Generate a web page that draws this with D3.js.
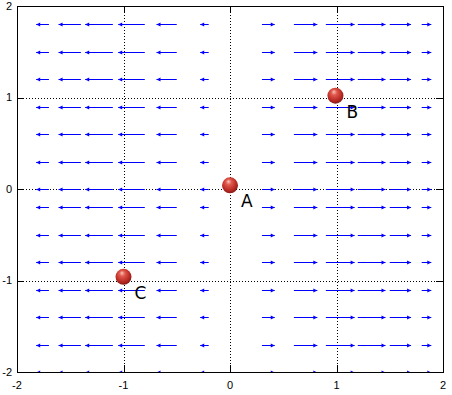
<!DOCTYPE html>
<html>
<head>
<meta charset="utf-8">
<script src="https://cdn.jsdelivr.net/npm/d3@7"></script>
<style>
  body { margin: 0; background: #fff; }
  svg { display: block; }
</style>
</head>
<body>
<div id="chart"></div>
<script>
// Zeilen des Vektorfeldes (y-Werte)
const rowsY = [-2, -1.7, -1.4, -1.1, -0.8, -0.5, -0.2, 0, 0.3, 0.6, 0.9, 1.2, 1.5, 1.8];
// Startpunkte der Pfeile (x-Werte) und deren Länge in x-Richtung
const colsX = [-1.7, -1.4, -1.1, -0.8, -0.5, -0.2, 0.3, 0.6, 0.9, 1.2, 1.5, 1.8];
const colsDx = [-0.12, -0.21, -0.26, -0.25, -0.19, -0.08, 0.12, 0.22, 0.27, 0.26, 0.20, 0.09];
// Kugeln mit Beschriftung
const pointNames = ['A', 'B', 'C'];
const pointX = [0, 0.99, -1];
const pointY = [0.04, 1.02, -0.96];
// Achsenbeschriftungen
const tickValues = [-2, -1, 0, 1, 2];
const gridValues = [-1, 0, 1];

const width = 452, height = 395;
const plot = { left: 17, right: 443, top: 6, bottom: 372 };

const svg = d3.select('#chart')
  .append('svg')
  .attr('width', width)
  .attr('height', height);

const x = d3.scaleLinear().domain([-2, 2]).range([plot.left, plot.right]);
const y = d3.scaleLinear().domain([-2, 2]).range([plot.bottom, plot.top]);

// Clip-Pfad für die Pfeile
svg.append('clipPath')
  .attr('id', 'plotclip')
  .append('rect')
  .attr('x', plot.left)
  .attr('y', plot.top)
  .attr('width', plot.right - plot.left)
  .attr('height', plot.bottom - plot.top);

// Gradient für die Kugeln
const grad = svg.append('defs').append('radialGradient')
  .attr('id', 'ball')
  .attr('cx', '45%').attr('cy', '40%').attr('r', '60%')
  .attr('fx', '40%').attr('fy', '25%');
grad.append('stop').attr('offset', '0%').attr('stop-color', '#f8c4bc');
grad.append('stop').attr('offset', '30%').attr('stop-color', '#e0584c');
grad.append('stop').attr('offset', '75%').attr('stop-color', '#b82a24');
grad.append('stop').attr('offset', '100%').attr('stop-color', '#8a1a16');

// Gitterlinien (gepunktet)
const grid = svg.append('g')
  .attr('stroke', '#000')
  .attr('stroke-width', 1)
  .attr('stroke-dasharray', '1,2');
grid.selectAll('.gx')
  .data(gridValues)
  .enter().append('line')
  .attr('x1', d => Math.round(x(d)) + 0.5)
  .attr('x2', d => Math.round(x(d)) + 0.5)
  .attr('y1', plot.top)
  .attr('y2', plot.bottom);
grid.selectAll('.gy')
  .data(gridValues)
  .enter().append('line')
  .attr('y1', d => Math.round(y(d)) + 0.5)
  .attr('y2', d => Math.round(y(d)) + 0.5)
  .attr('x1', plot.left)
  .attr('x2', plot.right);

// Pfeile erzeugen
const arrows = [];
rowsY.forEach(ry => {
  colsX.forEach((cx, i) => {
    arrows.push({ x: cx, y: ry, dx: colsDx[i] });
  });
});

const arrowG = svg.append('g').attr('clip-path', 'url(#plotclip)');

arrowG.selectAll('line')
  .data(arrows)
  .enter().append('line')
  .attr('x1', d => x(d.x))
  .attr('x2', d => x(d.x + d.dx))
  .attr('y1', d => Math.round(y(d.y)) + 0.5)
  .attr('y2', d => Math.round(y(d.y)) + 0.5)
  .attr('stroke', '#0000ff')
  .attr('stroke-width', 1);

// Pfeilspitzen (kleine gefüllte Dreiecke)
arrowG.selectAll('path')
  .data(arrows)
  .enter().append('path')
  .attr('d', d => {
    const hx = x(d.x + d.dx);
    const hy = Math.round(y(d.y)) + 0.5;
    const s = d.dx < 0 ? 1 : -1;
    return `M${hx},${hy} L${hx + s * 4},${hy - 2} L${hx + s * 4},${hy + 2} Z`;
  })
  .attr('fill', '#0000ff');

// Rahmen
svg.append('rect')
  .attr('x', plot.left + 0.5)
  .attr('y', plot.top + 0.5)
  .attr('width', plot.right - plot.left)
  .attr('height', plot.bottom - plot.top)
  .attr('fill', 'none')
  .attr('stroke', '#000')
  .attr('stroke-width', 1);

// Tickmarken nach innen, auf allen vier Seiten
const tickLen = 7;
const ticks = svg.append('g').attr('stroke', '#000').attr('stroke-width', 1);
tickValues.forEach(t => {
  const px = Math.round(x(t)) + 0.5;
  const py = Math.round(y(t)) + 0.5;
  ticks.append('line').attr('x1', px).attr('x2', px).attr('y1', plot.bottom).attr('y2', plot.bottom - tickLen);
  ticks.append('line').attr('x1', px).attr('x2', px).attr('y1', plot.top).attr('y2', plot.top + tickLen);
  ticks.append('line').attr('y1', py).attr('y2', py).attr('x1', plot.left).attr('x2', plot.left + tickLen);
  ticks.append('line').attr('y1', py).attr('y2', py).attr('x1', plot.right).attr('x2', plot.right - tickLen);
});

// Achsenbeschriftungen
svg.selectAll('.xlab')
  .data(tickValues)
  .enter().append('text')
  .attr('x', d => x(d))
  .attr('y', 389)
  .attr('text-anchor', 'middle')
  .style('font-family', 'Liberation Sans, Arial, sans-serif')
  .style('font-size', '11px')
  .text(d => d);

svg.selectAll('.ylab')
  .data(tickValues)
  .enter().append('text')
  .attr('x', 12)
  .attr('y', d => y(d))
  .attr('dy', '0.35em')
  .attr('text-anchor', 'end')
  .style('font-family', 'Liberation Sans, Arial, sans-serif')
  .style('font-size', '11px')
  .text(d => d);

// Kugeln und Buchstaben
const pts = pointNames.map((n, i) => ({ name: n, x: pointX[i], y: pointY[i] }));

svg.selectAll('.ball')
  .data(pts)
  .enter().append('circle')
  .attr('cx', d => x(d.x))
  .attr('cy', d => y(d.y))
  .attr('r', 8)
  .attr('fill', 'url(#ball)');

svg.selectAll('.plabel')
  .data(pts)
  .enter().append('text')
  .attr('x', d => x(d.x) + 11)
  .attr('y', d => y(d.y) + 22)
  .style('font-family', 'DejaVu Sans, sans-serif')
  .style('font-size', '17px')
  .text(d => d.name);
</script>
</body>
</html>
